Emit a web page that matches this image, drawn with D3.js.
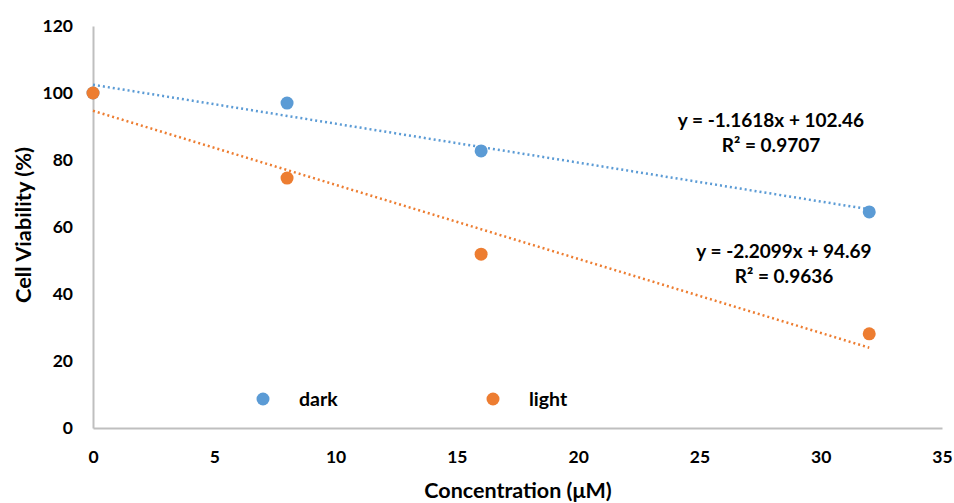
<!DOCTYPE html>
<html><head><meta charset="utf-8">
<script src="https://cdn.jsdelivr.net/npm/d3@7"></script>
<style>body{margin:0;background:#fff;} text{font-family:Lato,"Open Sans",sans-serif;font-weight:bold;fill:#000;}</style>
</head><body><svg id="c" width="954" height="503"></svg>
<script>
const concentration = [0, 8, 16, 32];
const darkValues = [100, 97, 82.7, 64.5];
const lightValues = [100, 74.6, 51.9, 28.1];
const seriesNames = ["dark", "light"];
const trendSlope = [-1.1618, -2.2099];
const trendIntercept = [102.46, 94.69];
const trendLabels = [["y = -1.1618x + 102.46", "R² = 0.9707"], ["y = -2.2099x + 94.69", "R² = 0.9636"]];
const xTicks = [0, 5, 10, 15, 20, 25, 30, 35];
const yTicks = [0, 20, 40, 60, 80, 100, 120];
const colors = ["#5B9BD5", "#ED7D31"];

const svg = d3.select("#c");
const x = d3.scaleLinear().domain([0, 35]).range([93, 942]);
const y = d3.scaleLinear().domain([0, 120]).range([428, 26]);

// axes
const xAxis = svg.append("g").attr("transform", "translate(0,428)")
  .call(d3.axisBottom(x).tickValues(xTicks).tickSize(0).tickPadding(23));
const yAxis = svg.append("g").attr("transform", "translate(93,0)")
  .call(d3.axisLeft(y).tickValues(yTicks).tickSize(0).tickPadding(20));
[xAxis, yAxis].forEach(a => {
  a.select(".domain").attr("stroke", "#bfbfbf").attr("stroke-width", 2);
  a.selectAll("text").style("font-size", "17.5px");
});

svg.append("text").attr("transform", "translate(31,225) rotate(-90)")
  .attr("text-anchor", "middle").style("font-size", "20px")
  .attr("textLength", 156).attr("lengthAdjust", "spacingAndGlyphs").text("Cell Viability (%)");
svg.append("text").attr("x", 518).attr("y", 498)
  .attr("text-anchor", "middle").style("font-size", "21.5px").text("Concentration (μM)");

const series = [darkValues, lightValues];
// trendlines
series.forEach((vals, i) => {
  const ends = [0, d3.max(concentration)];
  svg.append("line")
    .attr("x1", x(ends[0])).attr("y1", y(trendIntercept[i] + trendSlope[i] * ends[0]))
    .attr("x2", x(ends[1])).attr("y2", y(trendIntercept[i] + trendSlope[i] * ends[1]))
    .attr("stroke", colors[i]).attr("stroke-width", 2.5).attr("stroke-dasharray", "2,3");
});
// points
series.forEach((vals, i) => {
  svg.append("g").selectAll("circle").data(vals).join("circle")
    .attr("cx", (d, j) => x(concentration[j])).attr("cy", d => y(d))
    .attr("r", 6.5).attr("fill", colors[i]);
});
// trend labels
const labelPos = [[771, 127], [784, 258]];
trendLabels.forEach((lines, i) => {
  lines.forEach((t, k) => {
    svg.append("text").attr("x", labelPos[i][0]).attr("y", labelPos[i][1] + k * 25)
      .attr("text-anchor", "middle").style("font-size", "19px").text(t);
  });
});
// legend
const legendX = [263, 493];
seriesNames.forEach((n, i) => {
  svg.append("circle").attr("cx", legendX[i]).attr("cy", 399).attr("r", 6.5).attr("fill", colors[i]);
  svg.append("text").attr("x", legendX[i] + 36).attr("y", 406).style("font-size", "19.5px").text(n);
});
</script></body></html>
